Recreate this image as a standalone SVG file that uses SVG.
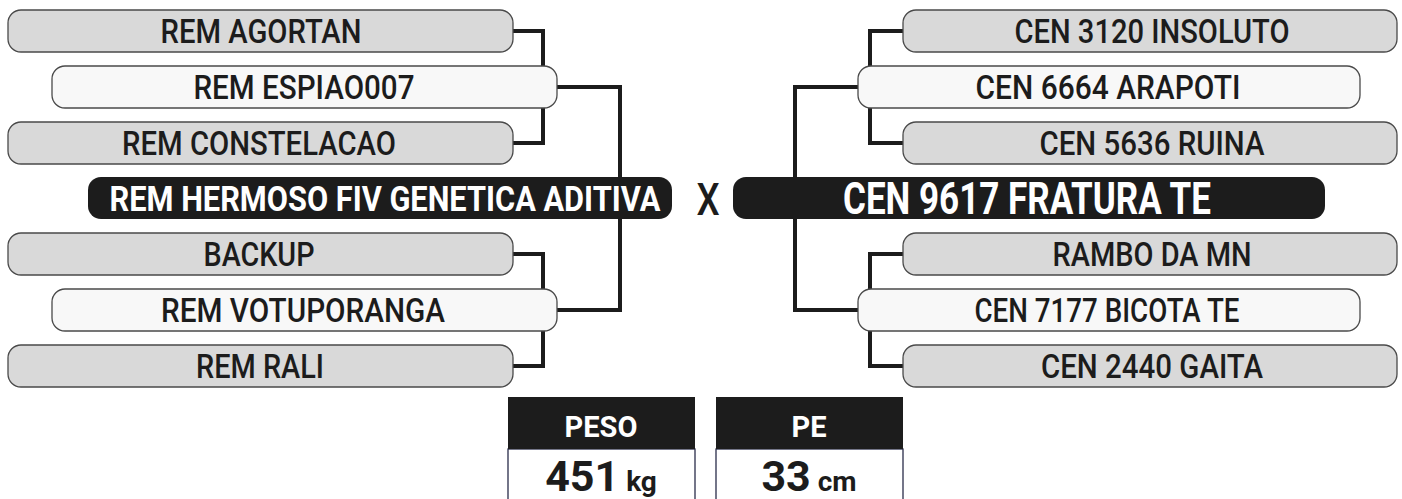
<svg xmlns="http://www.w3.org/2000/svg" width="1402" height="499" viewBox="0 0 1402 499">
<style>
.g{fill:#d9d9d9;stroke:#4a4a4a;stroke-width:1.3}
.w{fill:#f8f8f8;stroke:#4a4a4a;stroke-width:1.3}
.b{fill:#1c1c1c}
.t{font-family:Roboto,"Liberation Sans",sans-serif;font-weight:500;font-size:33px;fill:#1c1c1c;text-anchor:middle}
.tb{font-family:Roboto,"Liberation Sans",sans-serif;font-weight:700;fill:#fff;text-anchor:middle}
.c{fill:none;stroke:#1c1c1c;stroke-width:4}
</style>
<rect width="1402" height="499" fill="#fff"/>
<g id="connectors">
<path class="c" d="M513 31H543V143H513"/>
<path class="c" d="M557 87H620V310H557"/>
<path class="c" d="M513 254H543V366H513"/>
<path class="c" d="M903 31H870V143H903"/>
<path class="c" d="M858 87H795V310H858"/>
<path class="c" d="M903 254H870V366H903"/>
</g>
<g id="rem-agortan"><rect class="g" x="8" y="10" width="505" height="42" rx="13"/><text class="t" x="261" y="43" textLength="201" lengthAdjust="spacingAndGlyphs">REM AGORTAN</text></g>
<g id="rem-espiao007"><rect class="w" x="52" y="66" width="505" height="42" rx="13"/><text class="t" x="304" y="99" textLength="221" lengthAdjust="spacingAndGlyphs">REM ESPIAO007</text></g>
<g id="rem-constelacao"><rect class="g" x="8" y="122" width="505" height="42" rx="13"/><text class="t" x="259" y="155" textLength="274" lengthAdjust="spacingAndGlyphs">REM CONSTELACAO</text></g>
<g id="rem-hermoso"><rect class="b" x="88" y="177" width="584" height="42" rx="13"/><text class="tb" transform="scale(0.85,1)" x="452.9" y="211" font-size="35" textLength="648" lengthAdjust="spacingAndGlyphs">REM HERMOSO FIV GENETICA ADITIVA</text></g>
<g id="x"><text transform="scale(0.8,1)" x="885" y="215" font-family="Roboto,'Liberation Sans',sans-serif" font-size="44" font-weight="500" fill="#1c1c1c" text-anchor="middle" textLength="29" lengthAdjust="spacingAndGlyphs">X</text></g>
<g id="backup"><rect class="g" x="8" y="233" width="505" height="42" rx="13"/><text class="t" x="259" y="266" textLength="111" lengthAdjust="spacingAndGlyphs">BACKUP</text></g>
<g id="rem-votuporanga"><rect class="w" x="52" y="289" width="505" height="42" rx="13"/><text class="t" x="303" y="322" textLength="284" lengthAdjust="spacingAndGlyphs">REM VOTUPORANGA</text></g>
<g id="rem-rali"><rect class="g" x="8" y="345" width="505" height="42" rx="13"/><text class="t" x="260" y="378" textLength="128" lengthAdjust="spacingAndGlyphs">REM RALI</text></g>
<g id="cen-3120"><rect class="g" x="903" y="10" width="494" height="42" rx="13"/><text class="t" x="1152" y="43" textLength="275" lengthAdjust="spacingAndGlyphs">CEN 3120 INSOLUTO</text></g>
<g id="cen-6664"><rect class="w" x="858" y="66" width="502" height="42" rx="13"/><text class="t" x="1108" y="99" textLength="265" lengthAdjust="spacingAndGlyphs">CEN 6664 ARAPOTI</text></g>
<g id="cen-5636"><rect class="g" x="903" y="122" width="494" height="42" rx="13"/><text class="t" x="1152" y="155" textLength="225" lengthAdjust="spacingAndGlyphs">CEN 5636 RUINA</text></g>
<g id="cen-9617"><rect class="b" x="733" y="177" width="592" height="42" rx="13"/><text class="tb" transform="scale(0.8,1)" x="1283.75" y="214" font-size="44" textLength="460" lengthAdjust="spacingAndGlyphs">CEN 9617 FRATURA TE</text></g>
<g id="rambo"><rect class="g" x="903" y="233" width="494" height="42" rx="13"/><text class="t" x="1152" y="266" textLength="199" lengthAdjust="spacingAndGlyphs">RAMBO DA MN</text></g>
<g id="cen-7177"><rect class="w" x="858" y="289" width="502" height="42" rx="13"/><text class="t" x="1107" y="322" textLength="265" lengthAdjust="spacingAndGlyphs">CEN 7177 BICOTA TE</text></g>
<g id="cen-2440"><rect class="g" x="903" y="345" width="494" height="42" rx="13"/><text class="t" x="1152" y="378" textLength="222" lengthAdjust="spacingAndGlyphs">CEN 2440 GAITA</text></g>
<g id="peso">
<rect x="508" y="449" width="187" height="52" fill="#fff" stroke="#2a2d4a" stroke-width="1.3"/>
<rect x="508" y="397" width="187" height="52" fill="#1c1c1c"/>
<text x="601" y="437" font-family="Roboto,sans-serif" font-weight="700" font-size="29" fill="#fff" text-anchor="middle">PESO</text>
<text x="601" y="491" font-family="Roboto,sans-serif" font-weight="700" fill="#1c1c1c" text-anchor="middle"><tspan font-size="43">451</tspan><tspan font-size="28"> kg</tspan></text>
</g>
<g id="pe">
<rect x="716" y="449" width="187" height="52" fill="#fff" stroke="#2a2d4a" stroke-width="1.3"/>
<rect x="716" y="397" width="187" height="52" fill="#1c1c1c"/>
<text x="809" y="437" font-family="Roboto,sans-serif" font-weight="700" font-size="29" fill="#fff" text-anchor="middle">PE</text>
<text x="809" y="491" font-family="Roboto,sans-serif" font-weight="700" fill="#1c1c1c" text-anchor="middle"><tspan font-size="43">33</tspan><tspan font-size="28"> cm</tspan></text>
</g>
</svg>
